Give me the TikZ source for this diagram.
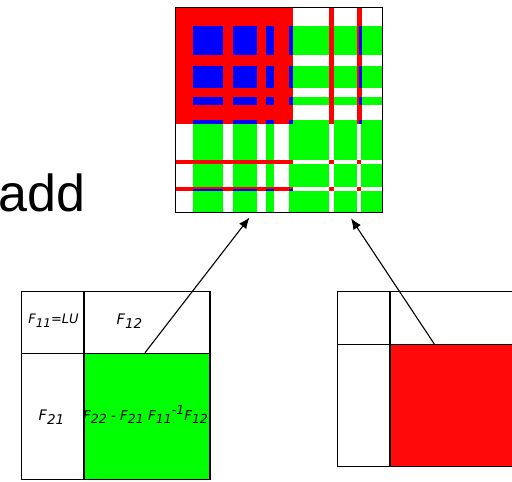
\documentclass[tikz,border=0pt]{standalone}
\usepackage{fontspec}
\setmainfont{DejaVu Sans}
\newfontfamily\wordfont{Liberation Sans}
\usetikzlibrary{arrows.meta}

\definecolor{mred}{RGB}{255,0,0}
\definecolor{mgreen}{RGB}{0,255,0}
\definecolor{mblue}{RGB}{0,0,255}
\definecolor{bred}{RGB}{255,10,10}

% block name with a lowered index, sizes given in pt
\newcommand\blk[3]{F\raisebox{-0.28em}{\fontsize{#2}{#2}\selectfont #3}}
\newcommand\hiidx[2]{\raisebox{0.45em}{\fontsize{#1}{#1}\selectfont #2}}

\begin{document}
\begin{tikzpicture}[x=1pt,y=-1pt,
  frame/.style={draw=black, line width=1.3pt, inner sep=0pt, anchor=north west},
  cell/.style={draw=black, line width=1.2pt, inner sep=0pt, anchor=north west},
  arr/.style={line width=1.1pt, -{Latex[length=11pt,width=9pt]}},
  lbl/.style={inner sep=0pt, font=\itshape}]
\useasboundingbox (0,0) rectangle (512,482);

% ---------- assembled matrix ----------
\fill[white] (174.7,6.7) rectangle (381.7,211.7);
\fill[mred] (174.7,6.7) rectangle (293.3,124);
% separator entries of the first front
\foreach \xa/\xb in {193.3/223.3,233.3/257.3,265.7/274,289/293.3}
  \foreach \ya/\yb in {25.7/55,65.7/88.3,97.3/105,120/124}
    \fill[mblue] (\xa,\ya) rectangle (\xb,\yb);
% rows of F12
\foreach \ya/\yb in {25.7/55,65.7/88.3,97.3/105,120/124}
  \fill[mgreen] (293.3,\ya) rectangle (381.7,\yb);
% columns of F21
\foreach \xa/\xb in {193.3/223.3,233.3/257.3,265.7/274,289/293.3}
  \fill[mgreen] (\xa,124) rectangle (\xb,211.7);
% F22 block
\fill[mgreen] (293.3,124) rectangle (381.7,211.7);
\foreach \xa/\xb in {329.3/333.5,357.3/361.3}
  \fill[white] (\xa,124) rectangle (\xb,211.7);
\foreach \ya/\yb in {160/164.3,186.7/190.7}
  \fill[white] (293.3,\ya) rectangle (381.7,\yb);
% second front: red lines
\foreach \xa/\xb in {329.3/334,357.3/361.7}
  \fill[mred] (\xa,6.7) rectangle (\xb,124);
\foreach \ya/\yb in {160/164.3,186.7/191}
  \fill[mred] (174.7,\ya) rectangle (293.3,\yb);
\foreach \ya/\yb in {25.7/55,65.7/88.3,97.3/105,120/124}
  \fill[mblue] (359,\ya) rectangle (361.7,\yb);
\foreach \xa/\xb in {193.3/223.3,233.3/257.3,265.7/274,289/293.3}
  \fill[mblue] (\xa,189) rectangle (\xb,191);
\foreach \xa/\xb in {329.3/333.5,357.3/361.3}
  \foreach \ya/\yb in {160/164.3,186.7/190.7}
    \fill[mred] (\xa,\ya) rectangle (\xb,\yb);
\node[frame, minimum width=207pt, minimum height=205pt] (mat) at (174.7,6.7) {};

% ---------- word ----------
\node[inner sep=0pt, anchor=base west, font=\wordfont\fontsize{52}{52}\selectfont] (addw) at (-1.5,211.5) {add};

% ---------- first front ----------
\node[cell, minimum width=62.3pt, minimum height=61.7pt] (f11) at (21,291) {};
\node[cell, minimum width=126pt, minimum height=61.7pt] (f12) at (83.3,291) {};
\node[cell, minimum width=62.3pt, minimum height=126.3pt] (f21) at (21,352.7) {};
\node[cell, fill=mgreen, minimum width=126pt, minimum height=126.3pt] (f22) at (83.3,352.7) {};
\node[lbl, font=\itshape\fontsize{13}{13}\selectfont] (t11) at (53.5,321) {\blk{13}{12}{11}=LU};
\node[lbl, font=\itshape\fontsize{14.5}{14.5}\selectfont] (t12) at (129.5,321) {\blk{14.5}{13.5}{12}};
\node[lbl, font=\itshape\fontsize{14.5}{14.5}\selectfont] (t21) at (51.5,417) {\blk{14.5}{13.5}{21}};
\node[lbl, font=\itshape\fontsize{13.5}{13.5}\selectfont] (t22) at (145.5,414.5)
  {\blk{13.5}{12.5}{22} - \blk{13.5}{12.5}{21} \blk{13.5}{12.5}{11}\hiidx{12.5}{-1}\blk{13.5}{12.5}{12}};

% ---------- second front ----------
\node[cell, minimum width=52.6pt, minimum height=53pt] (g11) at (336.7,291) {};
\node[cell, minimum width=124pt, minimum height=53pt] (g12) at (389.3,291) {};
\node[cell, minimum width=52.6pt, minimum height=122pt] (g21) at (336.7,344) {};
\node[cell, fill=bred, minimum width=124pt, minimum height=122pt] (g22) at (389.3,344) {};

% ---------- updates ----------
\coordinate (s1) at (145,352.7);
\coordinate (e1) at (249.5,217.5);
\coordinate (s2) at (434.3,344);
\coordinate (e2) at (351,218.3);
\draw[arr] (s1) -- (e1);
\draw[arr] (s2) -- (e2);
\end{tikzpicture}
\end{document}
